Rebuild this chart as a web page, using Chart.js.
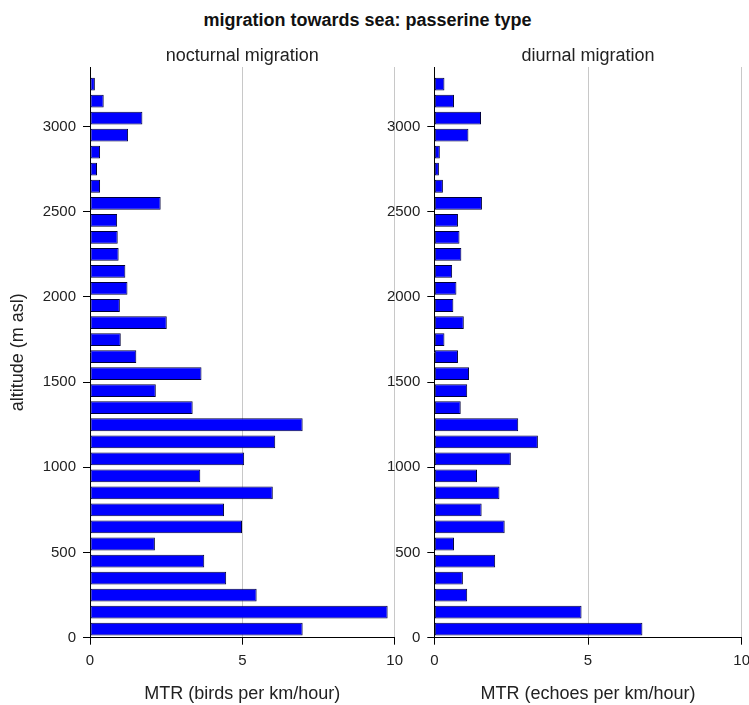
<!DOCTYPE html>
<html><head><meta charset="utf-8">
<script src="https://cdn.jsdelivr.net/npm/chart.js@4.4.0/dist/chart.umd.min.js"></script>
<style>
html,body{margin:0;padding:0;background:#fff;width:749px;height:705px;overflow:hidden;position:relative;font-family:"Liberation Sans",Arial,sans-serif;}
#title{position:absolute;left:0;width:735px;top:11px;text-align:center;font-size:18px;line-height:18px;font-weight:bold;color:#111;white-space:nowrap;}
#c1{position:absolute;left:0;top:0;}
#c2{position:absolute;left:380px;top:0;}
</style></head><body>
<div id="title">migration towards sea: passerine type</div>
<canvas id="c1" width="410" height="705"></canvas>
<canvas id="c2" width="400" height="705"></canvas>
<script>
// altitude bin centres (m asl)
const altitudes = [50,150,250,350,450,550,650,750,850,950,1050,1150,1250,1350,1450,1550,1650,1750,1850,1950,2050,2150,2250,2350,2450,2550,2650,2750,2850,2950,3050,3150,3250];
// MTR nocturnal (birds per km/hour)
const nocturnal = [6.98,9.77,5.47,4.47,3.75,2.13,4.99,4.40,6.00,3.62,5.06,6.08,6.98,3.37,2.16,3.66,1.52,1.01,2.52,0.98,1.23,1.16,0.94,0.91,0.89,2.32,0.33,0.23,0.33,1.25,1.72,0.45,0.16];
// MTR diurnal (echoes per km/hour)
const diurnal = [6.77,4.79,1.07,0.93,1.98,0.64,2.29,1.54,2.12,1.39,2.49,3.37,2.73,0.86,1.07,1.13,0.77,0.33,0.96,0.62,0.72,0.58,0.88,0.82,0.77,1.55,0.28,0.15,0.18,1.11,1.52,0.64,0.33];
const xTicks = [0,5,10];
const yTicks = [0,500,1000,1500,2000,2500,3000];
const yMax = 3350;

Chart.defaults.font.family = '"Liberation Sans", Arial, sans-serif';
Chart.defaults.color = '#222';

function makeChart(id, values, subtitle, xTitle, yTitle, yWidth, padRight) {
  const data = altitudes.map((a, i) => ({x: values[i], y: a}));
  return new Chart(document.getElementById(id), {
    type: 'bar',
    data: { datasets: [{
      data: data,
      backgroundColor: '#0000ff',
      borderColor: '#00003a',
      borderWidth: 1,
      borderSkipped: false,
      barPercentage: 0.75,
      categoryPercentage: 1.0
    }]},
    options: {
      indexAxis: 'y',
      responsive: false,
      animation: false,
      layout: { padding: {left: 0, right: padRight, top: 0, bottom: 0} },
      plugins: {
        legend: {display: false},
        tooltip: {enabled: false},
        title: {
          display: true, text: subtitle, fullSize: false,
          font: {size: 18, weight: 'normal'}, color: '#222',
          padding: {top: 45.4, bottom: 0}
        }
      },
      scales: {
        x: {
          type: 'linear', min: 0, max: 10,
          afterBuildTicks: s => { s.ticks = xTicks.map(v => ({value: v})); },
          afterFit: s => { s.height = 705 - 637.7; },
          ticks: {font: {size: 15}, color: '#222', padding: 7, maxRotation: 0, callback: v => String(v)},
          grid: {
            color: ctx => (ctx.tick && ctx.tick.value === 0) ? 'rgba(0,0,0,0)' : '#c8c8c8',
            tickColor: '#000', tickLength: 7, lineWidth: 1
          },
          border: {display: true, color: '#000', width: 1},
          title: {display: true, text: xTitle, font: {size: 18}, color: '#222', padding: {top: 0, bottom: 0}}
        },
        y: {
          type: 'linear', min: 0, max: yMax, offset: false,
          afterBuildTicks: s => { s.ticks = yTicks.map(v => ({value: v})); },
          afterFit: s => { s.width = yWidth; },
          ticks: {font: {size: 15}, color: '#222', padding: 7, callback: v => String(v)},
          grid: {offset: false, drawOnChartArea: false, drawTicks: true, tickLength: 7, tickColor: '#000', color: '#000'},
          border: {display: true, color: '#000', width: 1},
          title: {display: !!yTitle, text: yTitle || '', font: {size: 18}, color: '#222', padding: {top: 7, bottom: 0}}
        }
      }
    }
  });
}

makeChart('c1', nocturnal, 'nocturnal migration', 'MTR (birds per km/hour)', 'altitude (m asl)', 90, 13);
makeChart('c2', diurnal, 'diurnal migration', 'MTR (echoes per km/hour)', null, 54.3, 38.3);
</script>
</body></html>
